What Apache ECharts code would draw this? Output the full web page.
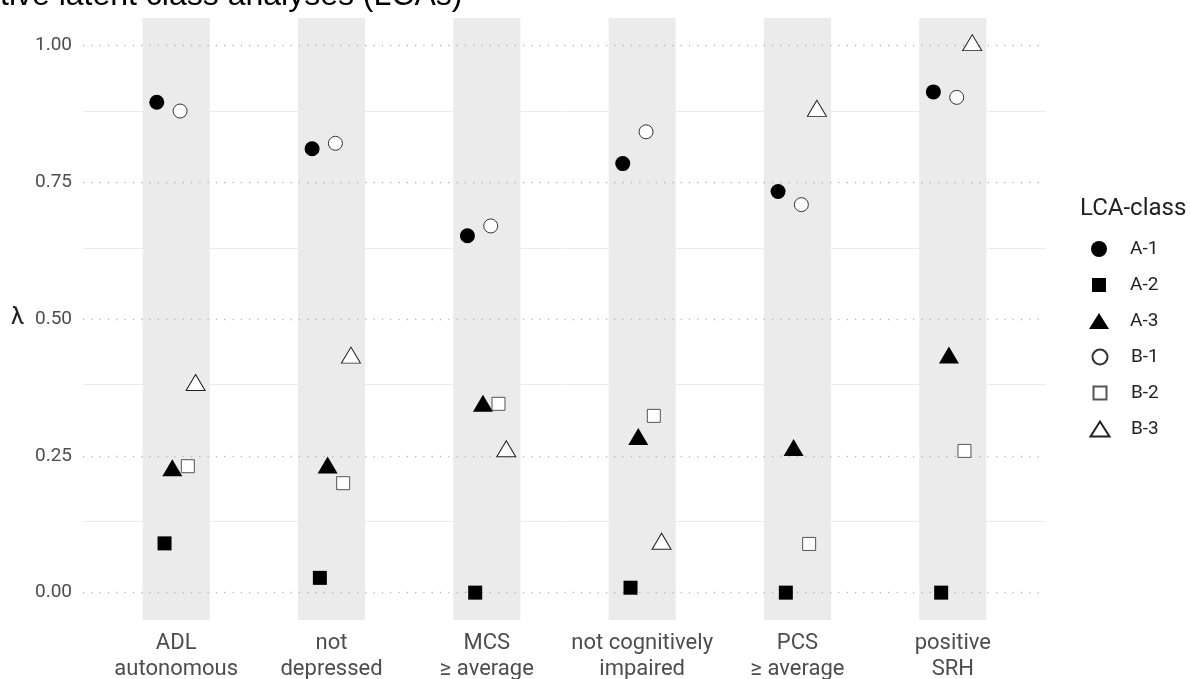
<!DOCTYPE html>
<html>
<head>
<meta charset="utf-8">
<script src="https://cdn.jsdelivr.net/npm/echarts@6/dist/echarts.min.js"></script>
<style>html,body{margin:0;padding:0;background:#fff;}#c{width:1190px;height:679px;}</style>
</head>
<body>
<div id="c"></div>
<script>
// ---- data ----
const categories = ['ADL\nautonomous', 'not\ndepressed', 'MCS\n≥ average', 'not cognitively\nimpaired', 'PCS\n≥ average', 'positive\nSRH'];
const classNames = ['A-1', 'A-2', 'A-3', 'B-1', 'B-2', 'B-3'];
const valuesA1 = [0.896, 0.811, 0.652, 0.784, 0.733, 0.915];
const valuesA2 = [0.090, 0.027, 0.000, 0.009, 0.000, 0.000];
const valuesA3 = [0.223, 0.228, 0.341, 0.280, 0.260, 0.429];
const valuesB1 = [0.880, 0.821, 0.670, 0.842, 0.709, 0.905];
const valuesB2 = [0.231, 0.200, 0.345, 0.323, 0.089, 0.259];
const valuesB3 = [0.379, 0.429, 0.258, 0.089, 0.880, 1.000];
const yTicks = [0, 0.25, 0.5, 0.75, 1];
const yMinor = [0.125, 0.375, 0.625, 0.875];
const titleText = 'tive latent class analyses (LCAs)';
const legendTitle = 'LCA-class';
const yName = 'λ';

// ---- styling ----
const FONT = 'Roboto';
const allValues = [valuesA1, valuesA2, valuesA3, valuesB1, valuesB2, valuesB3];
const styles = [
  {symbol: 'circle', size: 15, leg: [16, 16], item: {color: '#000'}},
  {symbol: 'rect', size: 14, leg: [14, 14], item: {color: '#000'}},
  {symbol: 'triangle', size: [20, 17], offset: [0, -2.8], leg: [20, 16], item: {color: '#000'}},
  {symbol: 'circle', size: 14, leg: [15, 15], item: {color: '#fff', borderColor: '#333', borderWidth: 1}},
  {symbol: 'rect', size: 13, leg: [13, 13], item: {color: '#fff', borderColor: '#555', borderWidth: 1}},
  {symbol: 'triangle', size: [19, 16], offset: [0, -2.7], leg: [19, 15], item: {color: '#fff', borderColor: '#222', borderWidth: 1}}
];

const series = [];
// gridlines (drawn behind bands)
series.push({
  type: 'scatter', data: [], z: 1, silent: true,
  markLine: {
    silent: true, symbol: 'none', label: {show: false}, animation: false,
    data: yMinor.map(v => ({yAxis: v, lineStyle: {color: '#ececec', width: 1, type: 'solid'}}))
      .concat(yTicks.map(v => ({yAxis: v, lineStyle: {color: '#b8b8b8', width: 1.3, type: [1.3, 7]}})))
  }
});
// grey bands
series.push({
  type: 'scatter', data: [], z: 2, silent: true,
  markArea: {
    silent: true, animation: false,
    itemStyle: {color: '#ebebeb'},
    data: categories.map((c, i) => [{xAxis: i - 0.216, yAxis: -0.05}, {xAxis: i + 0.216, yAxis: 1.05}])
  }
});
classNames.forEach((name, k) => {
  const off = (k - 2.5) * 0.05;
  const st = styles[k];
  series.push({
    name: name, type: 'scatter', z: 5,
    symbol: st.symbol, symbolSize: st.size, symbolOffset: st.offset || [0, 0],
    itemStyle: Object.assign({opacity: 1}, st.item),
    data: allValues[k].map((v, i) => [i + off, v])
  });
});

// one legend block per class so each icon gets its own size
const LEG_CX = 1099, LEG_TEXT_X = 1130, LEG_Y0 = 249, LEG_STEP = 36;
const legends = classNames.map((name, k) => {
  const [w, h] = styles[k].leg;
  return {
    orient: 'vertical', padding: 0, left: LEG_CX - w / 2, top: LEG_Y0 + k * LEG_STEP - 10,
    itemWidth: w, itemHeight: h, data: [name], selectedMode: false,
    textStyle: {fontFamily: FONT, fontSize: 19, lineHeight: 20, color: '#222',
      padding: [0, 0, 0, LEG_TEXT_X - (LEG_CX + w / 2 + 5)]}
  };
});

const chart = echarts.init(document.getElementById('c'), null, {renderer: 'canvas'});
chart.setOption({
  animation: false,
  backgroundColor: '#fff',
  title: [
    {text: titleText, padding: 0, left: 0, top: -20, textStyle: {fontFamily: 'Liberation Sans', fontSize: 32, fontWeight: 'normal', color: '#000'}},
    {text: legendTitle, padding: 0, left: 1080, top: 197, textStyle: {fontFamily: FONT, fontSize: 24, fontWeight: 'normal', color: '#222'}}
  ],
  graphic: [{type: 'text', left: 11, top: 306, style: {text: yName, font: '24px ' + FONT, fill: '#222'}}],
  legend: legends,
  grid: {left: 83, right: 144, top: 18, bottom: 59, containLabel: false, outerBoundsMode: 'none'},
  xAxis: {
    type: 'value', min: -0.6, max: 5.6,
    axisLine: {show: false}, axisTick: {show: false}, splitLine: {show: false},
    axisLabel: {
      customValues: [0, 1, 2, 3, 4, 5],
      formatter: v => categories[Math.round(v)],
      fontFamily: FONT, fontSize: 22, lineHeight: 26, color: '#4d4d4d', margin: 10
    }
  },
  yAxis: {
    type: 'value', min: -0.05, max: 1.05,
    axisLine: {show: false}, axisTick: {show: false}, splitLine: {show: false},
    axisLabel: {
      customValues: yTicks,
      formatter: v => v.toFixed(2),
      fontFamily: FONT, fontSize: 19, color: '#4d4d4d', margin: 11
    }
  },
  series: series
});
</script>
</body>
</html>
